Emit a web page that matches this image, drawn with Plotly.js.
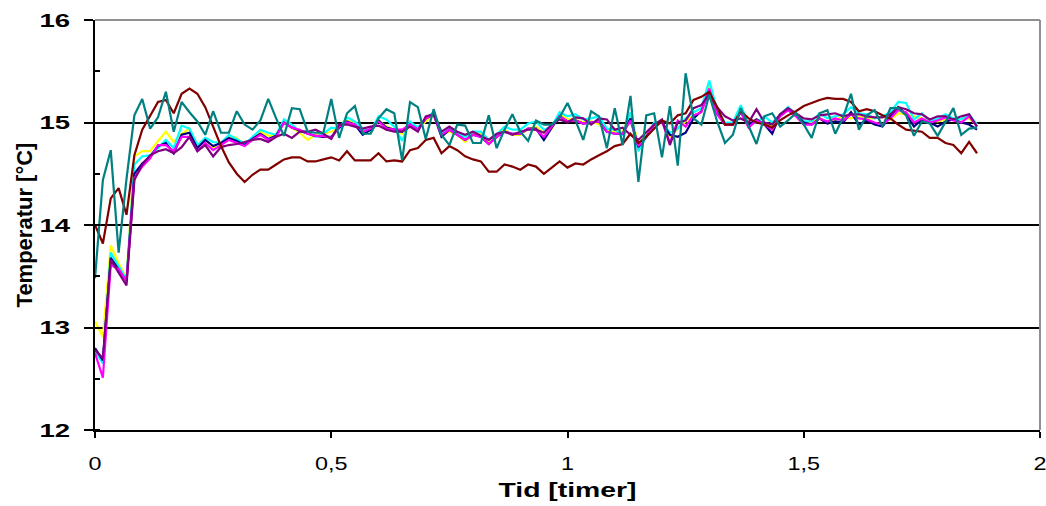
<!DOCTYPE html>
<html>
<head>
<meta charset="utf-8">
<script src="https://cdn.plot.ly/plotly-3.0.1.min.js"></script>
<style>
html,body{margin:0;padding:0;background:#fff;}
#chart{width:1046px;height:506px;}
</style>
</head>
<body>
<div id="chart"></div>
<script>
// Sampling: one reading per minute, x in hours
const sampleStepHours = 1 / 60;

const seriesMaroon = [14.00,13.82,14.26,14.36,14.10,14.68,14.93,15.06,15.20,15.22,15.09,15.28,15.33,15.28,15.15,14.96,14.77,14.61,14.50,14.42,
14.49,14.54,14.54,14.59,14.64,14.66,14.66,14.62,14.62,14.64,14.66,14.63,14.72,14.63,14.63,14.63,14.70,14.62,14.63,14.62,
14.73,14.75,14.83,14.85,14.70,14.77,14.73,14.67,14.64,14.62,14.52,14.52,14.59,14.57,14.54,14.59,14.57,14.50,14.56,14.62,
14.56,14.60,14.59,14.64,14.68,14.72,14.77,14.79,14.89,14.80,14.86,14.94,15.02,14.99,15.07,15.09,15.22,15.25,15.30,15.15,
14.98,14.98,15.11,15.04,15.00,14.98,14.95,15.02,15.07,15.11,15.16,15.19,15.22,15.24,15.23,15.23,15.20,15.11,15.13,15.11,
15.07,15.04,14.98,14.93,14.92,14.91,14.85,14.85,14.80,14.78,14.70,14.81,14.70];

const seriesTeal = [13.48,14.44,14.73,13.73,14.45,15.07,15.23,14.94,15.05,15.30,14.91,15.20,15.10,15.01,14.88,15.11,14.90,14.90,15.11,14.98,
14.93,15.02,15.23,15.04,14.87,15.14,15.13,14.91,14.90,14.90,15.23,14.85,15.09,15.16,14.89,14.89,15.04,15.13,15.09,14.63,
15.20,15.15,14.84,15.13,14.88,14.78,14.98,14.97,14.80,14.80,15.07,14.75,14.93,15.08,14.91,14.82,15.02,14.98,14.98,15.05,
15.19,15.02,14.83,15.11,15.06,14.75,15.14,14.78,15.26,14.42,15.07,15.09,14.66,15.16,14.58,15.48,15.04,14.98,15.27,15.01,
14.80,14.88,15.14,14.96,14.79,15.06,15.09,14.96,15.02,15.09,14.98,14.85,15.09,15.12,14.89,15.05,15.28,14.93,15.07,15.12,
14.96,15.14,15.14,15.07,14.87,15.01,14.99,14.87,15.00,15.14,14.88,14.94,14.95];

const seriesYellow = [13.06,12.91,13.80,13.63,13.48,14.67,14.72,14.72,14.82,14.91,14.81,14.89,14.94,14.78,14.83,14.76,14.77,14.86,14.85,14.78,
14.85,14.91,14.87,14.88,15.01,14.95,14.90,14.83,14.88,14.89,14.91,14.95,15.02,15.00,14.93,14.91,15.02,14.96,14.93,14.89,
14.98,14.94,15.01,15.08,14.88,14.91,14.88,14.81,14.89,14.89,14.80,14.86,14.93,14.88,14.88,14.94,14.96,14.90,14.94,15.08,
15.03,15.03,15.00,15.01,14.98,14.93,14.91,14.91,15.08,14.79,14.88,14.98,15.00,14.86,14.94,15.01,15.07,15.10,15.37,15.10,
14.98,14.98,15.12,14.96,15.03,15.00,14.96,15.08,15.12,15.08,15.00,15.00,15.04,15.01,15.03,15.06,15.04,15.06,15.04,15.04,
15.06,15.03,15.09,15.08,15.06,15.04,15.02,15.01,15.03,15.04,15.03,15.04,14.98];

const seriesCyan = [12.77,12.65,13.73,13.60,13.47,14.59,14.67,14.68,14.75,14.83,14.75,14.97,14.94,14.78,14.85,14.81,14.80,14.88,14.84,14.79,
14.86,14.93,14.90,14.88,15.03,14.98,14.91,14.91,14.86,14.89,14.95,14.94,15.05,15.01,14.94,14.92,15.06,15.03,14.96,14.82,
15.01,14.95,15.04,15.10,14.89,14.94,14.89,14.86,14.91,14.91,14.83,14.88,14.96,14.93,14.93,14.99,15.01,14.93,14.96,15.10,
15.06,15.08,15.03,15.04,15.06,14.94,14.93,14.88,15.10,14.72,14.86,15.00,15.00,14.90,14.94,15.04,15.10,15.14,15.41,15.12,
15.00,15.00,15.17,14.98,15.00,15.06,15.00,15.08,15.15,15.08,15.01,15.01,15.09,15.04,15.06,15.08,15.15,15.09,15.08,15.04,
15.06,15.10,15.20,15.19,15.03,15.09,15.01,15.04,15.08,15.04,15.03,15.08,14.98];

const seriesMagenta = [12.75,12.51,13.61,13.57,13.45,14.46,14.57,14.65,14.78,14.78,14.72,14.86,14.86,14.72,14.80,14.73,14.78,14.83,14.80,14.77,
14.83,14.88,14.83,14.86,15.00,14.95,14.93,14.89,14.87,14.87,14.85,14.96,15.00,14.98,14.91,14.94,15.01,14.94,14.93,14.93,
14.98,14.93,15.04,15.08,14.88,14.93,14.88,14.83,14.88,14.86,14.79,14.86,14.91,14.89,14.89,14.94,14.93,14.86,14.96,15.06,
15.01,15.02,14.99,15.00,15.01,14.91,14.89,14.89,15.02,14.77,14.86,14.98,15.01,14.80,15.02,14.96,15.07,15.10,15.33,15.08,
14.98,14.98,15.10,14.95,15.02,14.98,14.93,15.06,15.12,15.06,14.98,14.98,15.04,15.01,15.04,15.02,15.08,15.04,15.03,15.00,
14.98,15.04,15.12,15.10,15.00,15.04,15.00,15.02,15.05,15.02,15.00,15.06,14.96];

const seriesNavy = [12.80,12.68,13.68,13.57,13.45,14.50,14.60,14.67,14.77,14.80,14.70,14.88,14.90,14.75,14.83,14.77,14.80,14.85,14.82,14.78,
14.84,14.89,14.84,14.87,15.00,14.95,14.92,14.89,14.87,14.86,14.86,14.95,15.01,14.98,14.88,14.93,15.02,14.95,14.93,14.91,
14.98,14.93,15.04,15.08,14.86,14.93,14.88,14.83,14.88,14.86,14.79,14.86,14.91,14.89,14.89,14.94,14.94,14.83,14.95,15.06,
15.01,15.02,14.99,15.00,15.01,14.91,14.89,14.89,15.04,14.76,14.86,14.98,15.00,14.88,14.86,14.90,15.04,15.11,15.31,15.09,
14.98,14.98,15.10,14.98,15.03,14.98,14.89,15.08,15.12,15.08,15.00,14.98,15.04,14.99,15.01,15.00,15.10,14.98,15.02,14.98,
14.96,15.06,15.15,15.08,14.96,15.03,15.00,14.96,15.01,15.03,15.00,14.98,14.93];

const seriesPurple = [12.78,12.70,13.66,13.53,13.41,14.44,14.59,14.68,14.72,14.74,14.70,14.76,14.86,14.72,14.78,14.67,14.76,14.78,14.79,14.81,
14.83,14.84,14.81,14.86,14.89,14.85,14.91,14.91,14.93,14.89,14.84,14.98,14.98,14.96,14.94,14.96,14.97,14.93,14.91,14.91,
14.96,14.91,15.06,15.08,14.91,14.96,14.91,14.88,14.91,14.87,14.83,14.89,14.91,14.88,14.91,14.93,14.93,14.90,14.98,15.03,
15.00,15.05,15.04,14.98,15.04,15.03,14.93,14.95,14.88,14.83,14.91,14.98,15.03,14.78,15.00,15.02,15.14,15.17,15.28,15.15,
15.06,15.02,15.04,15.00,15.13,15.00,14.98,15.08,15.14,15.09,15.04,15.03,15.07,15.08,15.09,15.06,15.08,15.08,15.06,15.05,
15.05,15.08,15.15,15.13,15.09,15.08,15.03,15.06,15.06,15.03,15.06,15.08,14.96];

const xTickValues = [0, 0.5, 1, 1.5, 2];
const yTickValues = [12, 13, 14, 15, 16];

const seriesList = [
  {y: seriesYellow,  color: '#FFFF00'},
  {y: seriesCyan,    color: '#00FFFF'},
  {y: seriesNavy,    color: '#000080'},
  {y: seriesMagenta, color: '#FF00FF'},
  {y: seriesPurple,  color: '#800080'},
  {y: seriesMaroon,  color: '#800000'},
  {y: seriesTeal,    color: '#008080'}
];

const traces = seriesList.map(s => ({
  type: 'scatter',
  mode: 'lines',
  x: s.y.map((_, i) => i * sampleStepHours),
  y: s.y,
  line: {color: s.color, width: 2.2},
  hoverinfo: 'x+y',
  showlegend: false
}));

const fontFam = 'Arial, "Liberation Sans", sans-serif';

const layout = {
  width: 1046,
  height: 506,
  margin: {l: 95, r: 6, t: 20, b: 76},
  paper_bgcolor: '#ffffff',
  plot_bgcolor: '#ffffff',
  separators: ', ',
  showlegend: false,
  font: {family: fontFam, color: '#000'},
  xaxis: {
    range: [0, 2],
    tickvals: xTickValues,
    ticktext: xTickValues.map(v => String(v).replace('.', ',')),
    showgrid: false,
    zeroline: false,
    showline: true,
    linecolor: '#000',
    linewidth: 2,
    ticks: 'outside',
    ticklen: 6,
    tickwidth: 2,
    tickcolor: '#000',
    ticklabelstandoff: 10,
    tickfont: {family: fontFam, size: 18, color: '#000'},
    title: {text: '<b>Tid [timer]</b>', font: {family: fontFam, size: 21, color: '#000'}, standoff: 10}
  },
  yaxis: {
    range: [12, 16],
    tickvals: yTickValues,
    ticktext: yTickValues.map(v => '<b>' + v + '</b>'),
    showgrid: true,
    gridcolor: '#000',
    gridwidth: 2,
    zeroline: false,
    showline: true,
    linecolor: '#000',
    linewidth: 2,
    ticks: 'outside',
    ticklen: 9,
    tickwidth: 2,
    tickcolor: '#000',
    ticklabelstandoff: 10,
    minor: {dtick: 0.5, ticks: 'inside', ticklen: 5, tickwidth: 2, tickcolor: '#000', showgrid: false},
    tickfont: {family: fontFam, size: 19, color: '#000'},
    title: {text: '<b>Temperatur [°C]</b>', font: {family: fontFam, size: 22, color: '#000'}, standoff: 10}
  },
  shapes: [
    {type: 'line', xref: 'paper', yref: 'paper', x0: 0, x1: 1, y0: 1, y1: 1, line: {color: '#909090', width: 2}},
    {type: 'line', xref: 'paper', yref: 'paper', x0: 1, x1: 1, y0: 0, y1: 1, line: {color: '#909090', width: 2}}
  ]
};

// The reference lettering is horizontally wide; widen the drawn text about its anchor.
function widenText(selector, sx) {
  document.querySelectorAll(selector).forEach(t => {
    if (t.dataset.widened) return;
    const x = parseFloat(t.getAttribute('x')) || 0;
    const y = parseFloat(t.getAttribute('y')) || 0;
    const tr = t.getAttribute('transform') || '';
    t.setAttribute('transform', tr + ' translate(' + x + ',' + y + ') scale(' + sx + ',1) translate(' + (-x) + ',' + (-y) + ')');
    t.dataset.widened = '1';
  });
}

Plotly.newPlot('chart', traces, layout, {displayModeBar: false, staticPlot: true}).then(() => {
  widenText('.ytick text', 1.45);
  widenText('.xtick text', 1.3);
  widenText('.xtitle', 1.35);
});
</script>
</body>
</html>
